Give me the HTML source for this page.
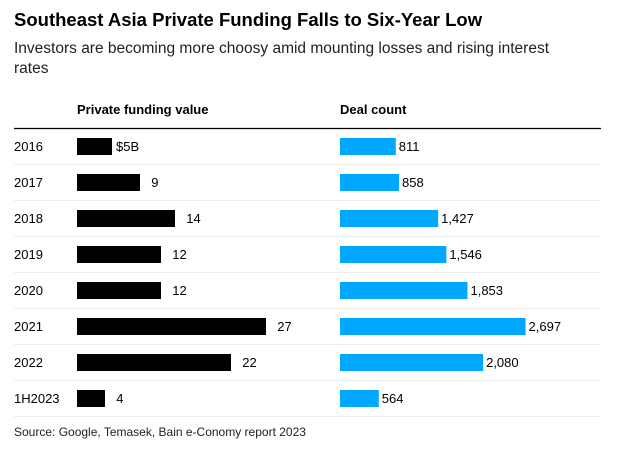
<!DOCTYPE html>
<html><head><meta charset="utf-8"><style>
body{margin:0;background:#fff;}
svg text{font-family:"Liberation Sans",Arial,sans-serif;}
</style></head><body>
<svg width="640" height="454" viewBox="0 0 640 454">
<text x="14" y="26" font-size="18.5" font-weight="bold" fill="#000">Southeast Asia Private Funding Falls to Six-Year Low</text>
<text x="14" y="53" font-size="15.5" fill="#222">Investors are becoming more choosy amid mounting losses and rising interest</text>
<text x="14" y="73" font-size="15.5" fill="#222">rates</text>
<text x="77" y="114" font-size="13" font-weight="bold" fill="#000">Private funding value</text>
<text x="340" y="114" font-size="13" font-weight="bold" fill="#000">Deal count</text>
<line x1="14" y1="128.5" x2="601" y2="128.5" stroke="#000" stroke-width="1.3"/>
<g id="rows"></g>
<text x="14" y="436" font-size="12" fill="#222">Source: Google, Temasek, Bain e-Conomy report 2023</text>
</svg>
<script>
const categories = ["2016","2017","2018","2019","2020","2021","2022","1H2023"];
const fundingValues = [5,9,14,12,12,27,22,4];
const dealCounts = [811,858,1427,1546,1853,2697,2080,564];
const fundingLabels = ["$5B","9","14","12","12","27","22","4"];
const dealLabels = ["811","858","1,427","1,546","1,853","2,697","2,080","564"];

const NS="http://www.w3.org/2000/svg";
const g=document.getElementById('rows');
const fx=v=>77+v*7.0;
const dx=v=>340+v*0.0688;
const rowY=i=>138+i*36;
function mk(tag,attrs){const e=document.createElementNS(NS,tag);for(const k in attrs)e.setAttribute(k,attrs[k]);g.appendChild(e);return e;}
categories.forEach((c,i)=>{
  const y=rowY(i);
  const t=mk('text',{x:14,y:y+13,'font-size':13,fill:'#000'});t.textContent=c;
  
  
  const b=mk('rect',{x:77,y:y,width:fx(fundingValues[i])-77,height:17,fill:'#000'});
  
  
  const ft=mk('text',{x:fx(fundingValues[i])+4,y:y+13,'font-size':13,fill:'#000'});
  if(i===0){ft.textContent=fundingLabels[i];}
  else{const s=document.createElementNS(NS,'tspan');s.setAttribute('fill','transparent');s.textContent='$';ft.appendChild(s);ft.appendChild(document.createTextNode(fundingLabels[i]));}
  
  
  const d=mk('rect',{x:340,y:y,width:dx(dealCounts[i])-340,height:17,fill:'#00a8ff'});
  
  
  const dt=mk('text',{x:dx(dealCounts[i])+3,y:y+13,'font-size':13,fill:'#000'});dt.textContent=dealLabels[i];
  
  
  const l=mk('line',{x1:14,x2:601,y1:y+26.5,y2:y+26.5,stroke:'#ececec','stroke-width':1});
  
  
});
</script>
</body></html>
